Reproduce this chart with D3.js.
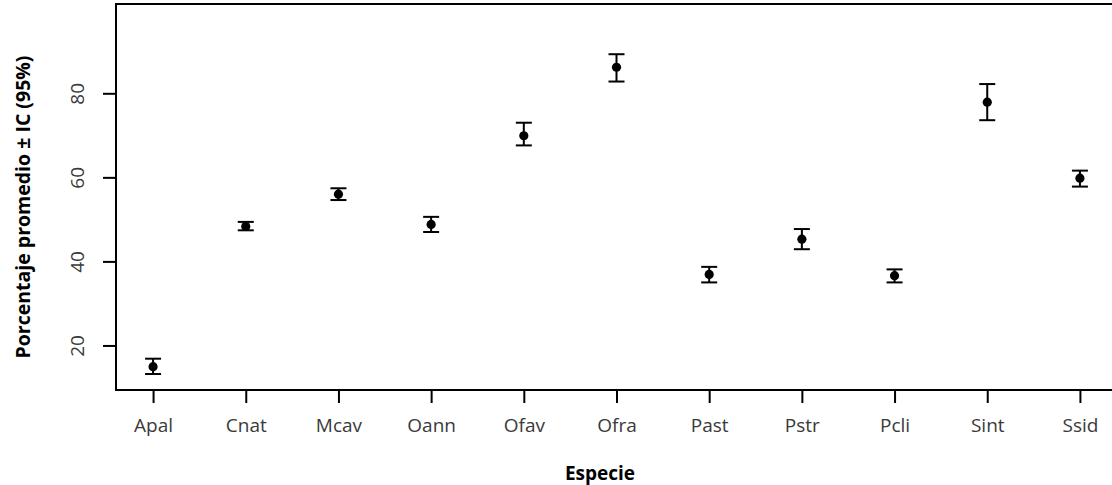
<!DOCTYPE html>
<html>
<head>
<meta charset="utf-8">
<script src="https://cdn.jsdelivr.net/npm/d3@7"></script>
<style>
  html, body { margin: 0; padding: 0; background: #fff; }
  svg { display: block; }
  text { font-family: "Open Sans", sans-serif; }
</style>
</head>
<body>
<svg id="chart" width="1112" height="485"></svg>
<script>
// Especies de coral y porcentaje promedio con intervalo de confianza al 95%
const species = ["Apal", "Cnat", "Mcav", "Oann", "Ofav", "Ofra", "Past", "Pstr", "Pcli", "Sint", "Ssid"];
const means   = [14.95, 48.3, 56.0, 48.8, 69.9, 86.2, 36.9, 45.3, 36.6, 77.9, 59.8];
const upper   = [16.85, 49.4, 57.4, 50.6, 73.0, 89.3, 38.7, 47.7, 38.1, 82.2, 61.6];
const lower   = [13.2, 47.4, 54.6, 47.0, 67.6, 82.8, 35.0, 42.9, 35.0, 73.6, 57.8];
const yTicks  = [20, 40, 60, 80];

const svg = d3.select("#chart");
const plot = { left: 116, top: 4, right: 1117, bottom: 390 };

const x = d3.scaleLinear().domain([0.6, species.length + 0.4]).range([plot.left, plot.right]);
const y = d3.scaleLinear().domain([9.4, 101.25]).range([plot.bottom, plot.top]);

const rows = species.map((s, i) => ({ s, i: i + 1, m: means[i], hi: upper[i], lo: lower[i] }));

// marco del panel
svg.append("rect")
  .attr("x", plot.left).attr("y", plot.top)
  .attr("width", plot.right - plot.left).attr("height", plot.bottom - plot.top)
  .attr("fill", "none").attr("stroke", "#000").attr("stroke-width", 2);

// eje X
const xAxis = svg.append("g")
  .attr("transform", `translate(0,${plot.bottom})`)
  .call(d3.axisBottom(x).tickValues(d3.range(1, species.length + 1))
    .tickFormat(d => species[d - 1]).tickSize(13).tickPadding(16));
xAxis.select(".domain").remove();
xAxis.selectAll(".tick line").attr("stroke", "#000").attr("stroke-width", 2);
xAxis.selectAll(".tick text").attr("font-size", 19).attr("fill", "#3a3a3a")
  .attr("font-family", "'Open Sans', sans-serif");

// eje Y
const yAxis = svg.append("g")
  .attr("transform", `translate(${plot.left},0)`)
  .call(d3.axisLeft(y).tickValues(yTicks).tickSize(13).tickFormat(d3.format("d")));
yAxis.select(".domain").remove();
yAxis.selectAll(".tick line").attr("stroke", "#000").attr("stroke-width", 2);
yAxis.selectAll(".tick text")
  .attr("font-size", 19).attr("fill", "#3a3a3a")
  .attr("font-family", "'Open Sans', sans-serif")
  .attr("x", null).attr("dy", null)
  .attr("text-anchor", "middle")
  .attr("transform", "translate(-39,0) rotate(-90)")
  .attr("dominant-baseline", "central");

// barras de error
const g = svg.append("g");
g.selectAll("line.stem").data(rows).join("line")
  .attr("x1", d => x(d.i)).attr("x2", d => x(d.i))
  .attr("y1", d => y(d.hi)).attr("y2", d => y(d.lo))
  .attr("stroke", "#000").attr("stroke-width", 2);
["hi", "lo"].forEach(k => {
  g.selectAll("line.cap-" + k).data(rows).join("line")
    .attr("x1", d => x(d.i) - 8).attr("x2", d => x(d.i) + 8)
    .attr("y1", d => y(d[k])).attr("y2", d => y(d[k]))
    .attr("stroke", "#000").attr("stroke-width", 2);
});
g.selectAll("circle").data(rows).join("circle")
  .attr("cx", d => x(d.i)).attr("cy", d => y(d.m)).attr("r", 4.6)
  .attr("fill", "#000");

// títulos de ejes
svg.append("text")
  .attr("x", 600).attr("y", 473)
  .attr("text-anchor", "middle").attr("dominant-baseline", "central")
  .attr("font-size", 19).attr("font-weight", "bold").attr("fill", "#000")
  .text("Especie");

svg.append("text")
  .attr("transform", `translate(22,${(plot.top + plot.bottom) / 2 + 10}) rotate(-90)`)
  .attr("text-anchor", "middle").attr("dominant-baseline", "central")
  .attr("font-size", 19.5).attr("font-weight", "bold").attr("fill", "#000")
  .text("Porcentaje promedio ± IC (95%)");
</script>
</body>
</html>
